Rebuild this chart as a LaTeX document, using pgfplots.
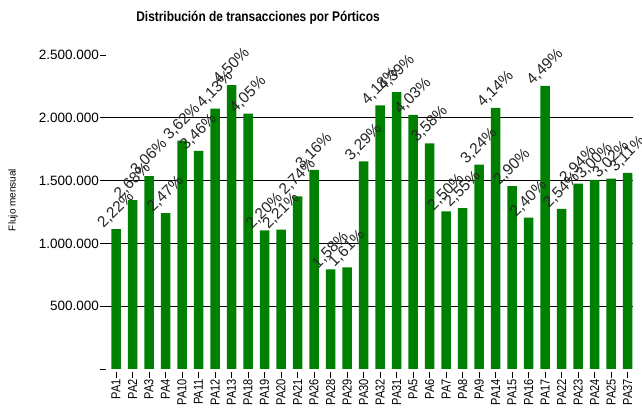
\documentclass[border=0pt]{standalone}
\usepackage{fontspec}
\setmainfont{Liberation Sans}
\newfontfamily\estrecha[FakeStretch=0.85]{Liberation Sans}
\usepackage{pgfplots}
\usepackage{pgfplotstable}
\pgfplotsset{compat=1.18}
\definecolor{verde}{RGB}{0,128,0}

% flujo mensual por portico y su porcentaje del total
\pgfplotstableread{
x y lab
0 1114000 2,22
1 1345000 2,68
2 1536000 3,06
3 1240000 2,47
4 1817000 3,62
5 1737000 3,46
6 2073000 4,13
7 2259000 4,50
8 2033000 4,05
9 1104000 2,20
10 1109000 2,21
11 1375000 2,74
12 1586000 3,16
13 793000 1,58
14 808000 1,61
15 1652000 3,29
16 2098000 4,18
17 2204000 4,39
18 2023000 4,03
19 1797000 3,58
20 1255000 2,50
21 1280000 2,55
22 1626000 3,24
23 2078000 4,14
24 1456000 2,90
25 1205000 2,40
26 2254000 4,49
27 1275000 2,54
28 1476000 2,94
29 1506000 3,00
30 1516000 3,02
31 1561000 3,11
}\porticos

\begin{document}
\begin{tikzpicture}
\useasboundingbox (0,0) rectangle (642pt,415pt);
\begin{axis}[
  at={(106.1pt,43pt)}, anchor=south west,
  scale only axis, width=526.4pt, height=329.6pt,
  xmin=-0.6, xmax=31.3, ymin=-24000, ymax=2600000,
  axis x line*=bottom, axis y line*=left,
  axis line style={draw=none},
  ybar, bar width=9.5pt,
  scaled y ticks=false,
  xtick={0,...,31},
  xticklabels={PA1,PA2,PA3,PA4,PA10,PA11,PA12,PA13,PA18,PA19,PA20,PA21,PA26,PA28,PA29,PA30,PA32,PA31,PA5,PA6,PA7,PA8,PA9,PA14,PA15,PA16,PA17,PA22,PA23,PA24,PA25,PA37},
  xticklabel style={rotate=90, anchor=east, font=\estrecha\fontsize{13}{14}\selectfont, inner sep=1pt},
  ytick={500000,1000000,1500000,2000000},
  yticklabels={500.000,1.000.000,1.500.000,2.000.000},
  extra y ticks={0,2500000},
  extra y tick labels={{},2.500.000},
  extra y tick style={grid=none},
  ymajorgrids, major grid style={black, line width=0.8pt},
  tick align=outside,
  major tick length=6pt,
  tick style={black, line width=0.8pt},
  yticklabel style={font=\fontsize{13.5}{14}\selectfont, inner sep=1pt},
  ylabel={Flujo mensual},
  ylabel style={at={(axis description cs:-0.177,0.522)}, anchor=center, font=\fontsize{10}{11}\selectfont},
  title={Distribución de transacciones por Pórticos},
  title style={at={(axis description cs:0.2886,1)}, anchor=center, yshift=18.5pt, font=\estrecha\bfseries\fontsize{14}{15}\selectfont},
  clip=false,
  nodes near coords={\pgfplotspointmeta\%},
  point meta=explicit symbolic,
  every node near coord/.append style={yshift=19pt, rotate=45, anchor=center, font=\fontsize{15.5}{16}\selectfont, black!85},
]
\addplot[fill=verde, draw=none] table[x=x, y=y, meta=lab] {\porticos};
\end{axis}
\end{tikzpicture}
\end{document}
